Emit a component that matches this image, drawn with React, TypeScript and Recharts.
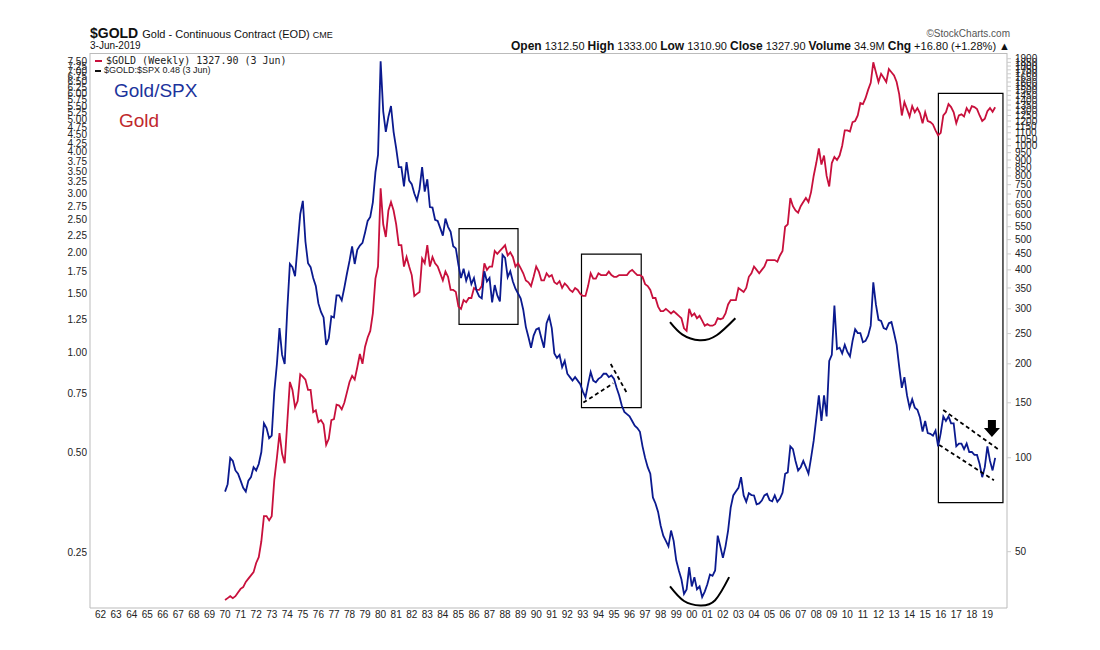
import { ComposedChart, Line, XAxis, YAxis, ReferenceArea, ReferenceLine, ReferenceDot } from 'recharts';

// one row per year, six readings per year (Jan, Mar, May, Jul, Sep, Nov)
const years = [
  1970, 1971, 1972, 1973, 1974, 1975, 1976, 1977, 1978, 1979,
  1980, 1981, 1982, 1983, 1984, 1985, 1986, 1987, 1988, 1989,
  1990, 1991, 1992, 1993, 1994, 1995, 1996, 1997, 1998, 1999,
  2000, 2001, 2002, 2003, 2004, 2005, 2006, 2007, 2008, 2009,
  2010, 2011, 2012, 2013, 2014, 2015, 2016, 2017, 2018, 2019,
];

const goldPrices: number[][] = [
  [35, 35.5, 36, 35.5, 36, 37],
  [38, 38.5, 40, 41, 42, 43],
  [46, 48, 54, 65, 65, 63],
  [65, 85, 100, 120, 103, 96],
  [130, 175, 165, 145, 152, 185],
  [182, 178, 165, 165, 140, 142],
  [130, 132, 128, 110, 115, 132],
  [133, 148, 147, 143, 150, 162],
  [175, 183, 178, 195, 215, 200],
  [227, 243, 255, 290, 375, 410],
  [730, 560, 510, 620, 660, 620],
  [560, 480, 480, 410, 440, 410],
  [385, 330, 335, 340, 435, 420],
  [480, 410, 440, 420, 410, 390],
  [370, 395, 380, 345, 345, 340],
  [305, 300, 320, 315, 325, 325],
  [350, 345, 345, 355, 420, 400],
  [410, 410, 460, 450, 460, 470],
  [480, 445, 455, 440, 410, 420],
  [405, 390, 370, 365, 355, 380],
  [410, 395, 370, 370, 390, 380],
  [385, 365, 360, 368, 350, 362],
  [355, 345, 340, 350, 345, 335],
  [330, 330, 355, 390, 375, 375],
  [390, 385, 385, 385, 395, 385],
  [380, 380, 385, 385, 385, 385],
  [395, 400, 392, 385, 385, 380],
  [360, 355, 345, 325, 325, 305],
  [295, 295, 300, 295, 290, 295],
  [290, 285, 280, 260, 255, 300],
  [285, 290, 280, 285, 275, 265],
  [268, 265, 265, 268, 280, 278],
  [280, 290, 310, 320, 320, 320],
  [350, 345, 340, 350, 380, 390],
  [410, 400, 390, 400, 410, 430],
  [430, 430, 430, 425, 445, 460],
  [550, 560, 680, 640, 620, 610],
  [640, 660, 680, 660, 710, 800],
  [880, 980, 870, 930, 800, 740],
  [880, 920, 900, 930, 1000, 1120],
  [1120, 1110, 1190, 1200, 1250, 1370],
  [1360, 1420, 1510, 1590, 1850, 1720],
  [1600, 1700, 1650, 1600, 1760, 1720],
  [1680, 1600, 1460, 1250, 1380, 1310],
  [1240, 1340, 1280, 1320, 1270, 1180],
  [1280, 1200, 1190, 1170, 1120, 1080],
  [1100, 1250, 1280, 1360, 1330, 1280],
  [1180, 1250, 1260, 1240, 1320, 1280],
  [1340, 1330, 1310, 1250, 1200, 1220],
  [1290, 1320, 1285, 1328],
];

const goldSpxRatio: number[][] = [
  [0.38, 0.40, 0.48, 0.47, 0.44, 0.43],
  [0.41, 0.39, 0.38, 0.41, 0.42, 0.45],
  [0.44, 0.46, 0.50, 0.61, 0.59, 0.55],
  [0.56, 0.76, 0.92, 1.18, 0.98, 0.92],
  [1.34, 1.84, 1.80, 1.69, 2.10, 2.60],
  [2.85, 2.15, 1.85, 1.80, 1.67, 1.58],
  [1.40, 1.32, 1.27, 1.05, 1.10, 1.28],
  [1.27, 1.48, 1.48, 1.43, 1.56, 1.72],
  [1.88, 2.08, 1.84, 2.03, 2.09, 2.13],
  [2.29, 2.48, 2.55, 2.82, 3.47, 3.92],
  [7.5, 5.3, 4.6, 5.1, 5.5, 4.6],
  [4.1, 3.6, 3.6, 3.15, 3.73, 3.28],
  [3.2, 3.0, 2.86, 3.09, 3.6, 3.04],
  [3.31, 2.73, 2.72, 2.5, 2.48, 2.36],
  [2.24, 2.52, 2.38, 2.3, 2.08, 2.05],
  [1.83, 1.67, 1.78, 1.64, 1.73, 1.6],
  [1.67, 1.53, 1.47, 1.45, 1.75, 1.63],
  [1.67, 1.41, 1.59, 1.48, 1.42, 1.96],
  [1.92, 1.68, 1.75, 1.63, 1.55, 1.50],
  [1.45, 1.34, 1.19, 1.11, 1.03, 1.12],
  [1.17, 1.18, 1.10, 1.03, 1.22, 1.28],
  [1.18, 0.99, 0.96, 0.98, 0.90, 0.94],
  [0.86, 0.84, 0.82, 0.84, 0.82, 0.80],
  [0.76, 0.73, 0.80, 0.87, 0.82, 0.81],
  [0.83, 0.84, 0.86, 0.86, 0.84, 0.85],
  [0.83, 0.78, 0.74, 0.69, 0.66, 0.65],
  [0.64, 0.62, 0.60, 0.59, 0.575, 0.52],
  [0.48, 0.45, 0.43, 0.365, 0.35, 0.33],
  [0.30, 0.28, 0.27, 0.26, 0.29, 0.27],
  [0.236, 0.22, 0.207, 0.187, 0.193, 0.225],
  [0.197, 0.21, 0.193, 0.197, 0.183, 0.19],
  [0.20, 0.214, 0.212, 0.22, 0.28, 0.26],
  [0.24, 0.26, 0.29, 0.34, 0.37, 0.38],
  [0.39, 0.42, 0.37, 0.354, 0.376, 0.371],
  [0.37, 0.348, 0.35, 0.357, 0.37, 0.374],
  [0.358, 0.355, 0.37, 0.354, 0.362, 0.377],
  [0.43, 0.434, 0.52, 0.51, 0.47, 0.44],
  [0.45, 0.47, 0.45, 0.43, 0.48, 0.54],
  [0.63, 0.74, 0.62, 0.74, 0.64, 0.94],
  [0.98, 1.38, 1.02, 1.03, 0.99, 1.05],
  [1.0, 0.97, 1.08, 1.17, 1.14, 1.14],
  [1.07, 1.08, 1.12, 1.2, 1.62, 1.39],
  [1.25, 1.24, 1.18, 1.17, 1.22, 1.23],
  [1.14, 1.05, 0.9, 0.78, 0.84, 0.74],
  [0.68, 0.72, 0.68, 0.67, 0.635, 0.576],
  [0.62, 0.57, 0.567, 0.56, 0.58, 0.52],
  [0.57, 0.64, 0.62, 0.64, 0.61, 0.61],
  [0.52, 0.53, 0.53, 0.51, 0.53, 0.50],
  [0.50, 0.49, 0.49, 0.46, 0.42, 0.45],
  [0.52, 0.47, 0.44, 0.48],
];

const yearTicks = [
  1962, 1963, 1964, 1965, 1966, 1967, 1968, 1969, 1970, 1971, 1972, 1973, 1974, 1975,
  1976, 1977, 1978, 1979, 1980, 1981, 1982, 1983, 1984, 1985, 1986, 1987, 1988, 1989,
  1990, 1991, 1992, 1993, 1994, 1995, 1996, 1997, 1998, 1999, 2000, 2001, 2002, 2003,
  2004, 2005, 2006, 2007, 2008, 2009, 2010, 2011, 2012, 2013, 2014, 2015, 2016, 2017,
  2018, 2019,
];

const ratioTicks = [
  0.25, 0.5, 0.75, 1, 1.25, 1.5, 1.75, 2, 2.25, 2.5, 2.75, 3, 3.25, 3.5, 3.75, 4,
  4.25, 4.5, 4.75, 5, 5.25, 5.5, 5.75, 6, 6.25, 6.5, 6.75, 7, 7.25, 7.5,
];

const goldTicks = [
  50, 100, 150, 200, 250, 300, 350, 400, 450, 500, 550, 600, 650, 700, 750, 800,
  850, 900, 950, 1000, 1050, 1100, 1150, 1200, 1250, 1300, 1350, 1400, 1450, 1500,
  1550, 1600, 1650, 1700, 1750, 1800, 1850, 1900,
];

// analyst markings (in data units)
const boxes = [
  { x1: 1985.04, x2: 1988.83, y1: 1.21, y2: 2.35 },
  { x1: 1992.91, x2: 1996.75, y1: 0.68, y2: 1.97 },
  { x1: 2015.85, x2: 2020.0, y1: 0.352, y2: 6.0 },
];

const dashedLines = [
  [{ x: 1993.03, y: 0.704 }, { x: 1994.95, y: 0.805 }],
  [{ x: 1994.79, y: 0.92 }, { x: 1995.82, y: 0.754 }],
  [{ x: 2016.16, y: 0.669 }, { x: 2019.76, y: 0.507 }],
  [{ x: 2015.9, y: 0.525 }, { x: 2019.42, y: 0.411 }],
];

const goldArc = [
  { t: 1998.6, v: 272 },
  { t: 1999.4, v: 248 },
  { t: 2000.5, v: 238 },
  { t: 2001.6, v: 247 },
  { t: 2002.8, v: 280 },
];

const ratioArc = [
  { t: 1998.6, v: 0.197 },
  { t: 1999.5, v: 0.178 },
  { t: 2000.55, v: 0.1725 },
  { t: 2001.5, v: 0.179 },
  { t: 2002.4, v: 0.21 },
];

const arrowAt = { x: 2019.29, y: 0.59 };

const RED = '#c8103c';
const NAVY = '#0b1a8f';

const data = years.flatMap((year, i) =>
  goldPrices[i].map((g, j) => ({ t: year + j / 6, gold: g, ratio: goldSpxRatio[i][j] }))
);

const DownArrow = (props: any) => {
  const { cx, cy } = props;
  if (cx == null || cy == null) return null;
  const d = `M${cx - 4},${cy - 8} L${cx + 4},${cy - 8} L${cx + 4},${cy} L${cx + 8},${cy} L${cx},${cy + 9} L${cx - 8},${cy} L${cx - 4},${cy} Z`;
  return <path d={d} fill="#000" />;
};

const tickFont = { fontSize: 10, fill: '#222', fontFamily: 'Arial, "Liberation Sans", sans-serif' };

export default function App() {
  return (
    <div
      style={{
        position: 'absolute',
        left: 0,
        top: 0,
        width: 1100,
        height: 650,
        background: '#fff',
        fontFamily: 'Arial, "Liberation Sans", sans-serif',
        color: '#111',
      }}
    >
      {/* header */}
      <div style={{ position: 'absolute', left: 90, top: 25, whiteSpace: 'nowrap', lineHeight: '16px' }}>
        <span style={{ fontWeight: 'bold', fontSize: 14 }}>$GOLD</span>
        <span style={{ fontSize: 11, marginLeft: 4 }}>Gold - Continuous Contract (EOD)</span>
        <span style={{ fontSize: 9, marginLeft: 3 }}>CME</span>
      </div>
      <div style={{ position: 'absolute', left: 90, top: 40, fontSize: 10, whiteSpace: 'nowrap' }}>3-Jun-2019</div>
      <div style={{ position: 'absolute', right: 90, top: 28, fontSize: 10, color: '#555', whiteSpace: 'nowrap' }}>
        ©StockCharts.com
      </div>
      <div style={{ position: 'absolute', right: 90, top: 39, fontSize: 11, whiteSpace: 'nowrap' }}>
        <b style={{ fontSize: 12 }}>Open</b> 1312.50 <b style={{ fontSize: 12 }}>High</b> 1333.00{' '}
        <b style={{ fontSize: 12 }}>Low</b> 1310.90 <b style={{ fontSize: 12 }}>Close</b> 1327.90{' '}
        <b style={{ fontSize: 12 }}>Volume</b> 34.9M <b style={{ fontSize: 12 }}>Chg</b> +16.80 (+1.28%) ▲
      </div>

      <ComposedChart
        width={1100}
        height={650}
        data={data}
        margin={{ top: 53, right: 48, bottom: 12, left: 50 }}
        style={{ position: 'absolute', left: 0, top: 0 }}
      >
        <XAxis
          dataKey="t"
          type="number"
          domain={[1961.32, 2020.26]}
          allowDataOverflow
          ticks={yearTicks}
          interval={0}
          tickFormatter={(y: number) => String(Math.round(y) % 100).padStart(2, '0')}
          tick={tickFont}
          tickLine={false}
          tickSize={2}
          tickMargin={1}
          height={30}
          stroke="#bbb"
        />
        <YAxis
          yAxisId="ratio"
          orientation="left"
          scale="log"
          domain={[0.1696, 7.94]}
          allowDataOverflow
          ticks={ratioTicks}
          interval={0}
          tickFormatter={(v: number) => v.toFixed(2)}
          tick={tickFont}
          tickLine={false}
          tickSize={2}
          tickMargin={1}
          width={40}
          stroke="#bbb"
        />
        <YAxis
          yAxisId="gold"
          orientation="right"
          scale="log"
          domain={[33, 1982]}
          allowDataOverflow
          ticks={goldTicks}
          interval={0}
          tick={tickFont}
          tickLine={{ stroke: '#ccc' }}
          tickSize={4}
          tickMargin={4}
          width={45}
          stroke="#bbb"
        />

        {boxes.map((b, i) => (
          <ReferenceArea
            key={`box-${i}`}
            yAxisId="ratio"
            x1={b.x1}
            x2={b.x2}
            y1={b.y1}
            y2={b.y2}
            fill="none"
            stroke="#000"
            strokeWidth={1.2}
            ifOverflow="visible"
          />
        ))}

        <Line
          yAxisId="gold"
          dataKey="gold"
          type="linear"
          stroke={RED}
          strokeWidth={1.8}
          dot={false}
          isAnimationActive={false}
        />
        <Line
          yAxisId="ratio"
          dataKey="ratio"
          type="linear"
          stroke={NAVY}
          strokeWidth={1.8}
          dot={false}
          isAnimationActive={false}
        />

        <Line
          yAxisId="gold"
          data={goldArc}
          dataKey="v"
          type="natural"
          stroke="#000"
          strokeWidth={2}
          dot={false}
          isAnimationActive={false}
        />
        <Line
          yAxisId="ratio"
          data={ratioArc}
          dataKey="v"
          type="natural"
          stroke="#000"
          strokeWidth={2}
          dot={false}
          isAnimationActive={false}
        />

        {dashedLines.map((seg, i) => (
          <ReferenceLine
            key={`dash-${i}`}
            yAxisId="ratio"
            segment={seg}
            stroke="#000"
            strokeWidth={1.8}
            strokeDasharray="4 3"
            ifOverflow="visible"
          />
        ))}

        <ReferenceDot yAxisId="ratio" x={arrowAt.x} y={arrowAt.y} r={8} shape={DownArrow} ifOverflow="visible" />
      </ComposedChart>

      {/* plot frame top edge */}
      <div style={{ position: 'absolute', left: 90, top: 53, width: 917, height: 0, borderTop: '1px solid #bbb' }} />

      {/* legend */}
      <div style={{ position: 'absolute', left: 95, top: 60, width: 7, height: 2, background: RED }} />
      <div
        style={{
          position: 'absolute',
          left: 106,
          top: 55,
          fontSize: 10,
          fontFamily: '"DejaVu Sans Mono", "Liberation Mono", monospace',
          whiteSpace: 'nowrap',
          color: '#222',
        }}
      >
        $GOLD (Weekly) 1327.90 (3 Jun)
      </div>
      <div style={{ position: 'absolute', left: 95, top: 70, width: 6, height: 2, background: '#111' }} />
      <div style={{ position: 'absolute', left: 104, top: 65, fontSize: 9, whiteSpace: 'nowrap', color: '#222' }}>
        $GOLD:$SPX 0.48 (3 Jun)
      </div>

      <div style={{ position: 'absolute', left: 114, top: 80, fontSize: 19, color: '#1c339c', whiteSpace: 'nowrap' }}>
        Gold/SPX
      </div>
      <div style={{ position: 'absolute', left: 119, top: 110, fontSize: 19, color: '#c0282d', whiteSpace: 'nowrap' }}>
        Gold
      </div>
    </div>
  );
}
